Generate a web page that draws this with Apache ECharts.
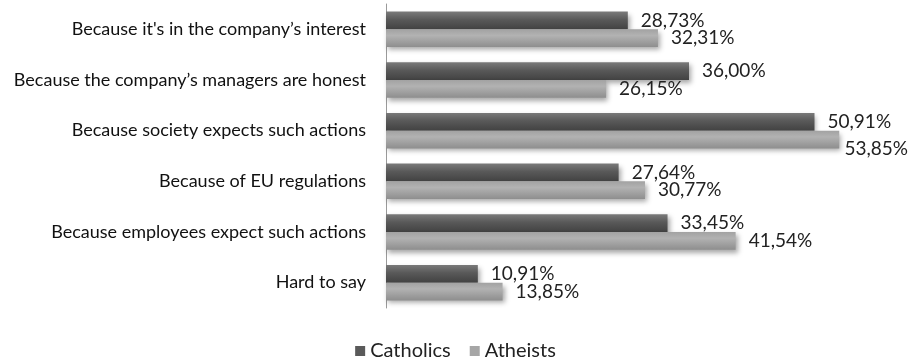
<!DOCTYPE html>
<html>
<head>
<meta charset="utf-8">
<script src="https://cdn.jsdelivr.net/npm/echarts@6/dist/echarts.min.js"></script>
<style>
  html, body { margin: 0; padding: 0; background: #ffffff; }
  #chart { width: 911px; height: 362px; }
</style>
</head>
<body>
<div id="chart"></div>
<script>
// Reasons given, top to bottom
const categories = [
  "Because it's in the company\u2019s interest",
  "Because the company\u2019s managers are honest",
  "Because society expects such actions",
  "Because of EU regulations",
  "Because employees expect such actions",
  "Hard to say"
];
// Share of respondents, in percent
const catholics = [28.73, 36.00, 50.91, 27.64, 33.45, 10.91];
const atheists  = [32.31, 26.15, 53.85, 30.77, 41.54, 13.85];
const seriesNames = ["Catholics", "Atheists"];

const FONT = "Lato, 'Open Sans', sans-serif";

function pct(v) {
  return v.toFixed(2).replace('.', ',') + '%';
}

const darkFill = new echarts.graphic.LinearGradient(0, 0, 0, 1, [
  { offset: 0, color: '#7a7a7a' },
  { offset: 0.45, color: '#595959' },
  { offset: 1, color: '#424242' }
]);
const lightFill = new echarts.graphic.LinearGradient(0, 0, 0, 1, [
  { offset: 0, color: '#a2a2a2' },
  { offset: 0.35, color: '#b2b2b2' },
  { offset: 1, color: '#8e8e8e' }
]);

const chart = echarts.init(document.getElementById('chart'), null, { renderer: 'canvas' });

// Keep value labels inside the canvas: pull a label left if it would run off the edge
function keepInside(params) {
  const r = params.labelRect;
  const limit = chart.getWidth() - 3;
  if (r.x + r.width > limit) {
    return { x: limit - r.width };
  }
  return {};
}

chart.setOption({
  animation: false,
  backgroundColor: '#ffffff',
  grid: { left: 386, right: 20, top: 4, bottom: 54, containLabel: false },
  legend: {
    top: 336,
    left: 'center',
    itemWidth: 10,
    itemHeight: 10,
    itemGap: 19,
    icon: 'rect',
    textStyle: { fontFamily: FONT, fontSize: 20, color: '#222', padding: [0, 0, 0, 0] },
    data: [
      { name: seriesNames[0], itemStyle: { color: '#5a5a5a' } },
      { name: seriesNames[1], itemStyle: { color: '#a6a6a6' } }
    ]
  },
  xAxis: {
    type: 'value',
    min: 0,
    max: 60,
    show: false
  },
  yAxis: {
    type: 'category',
    data: categories,
    inverse: true,
    axisLine: { show: true, lineStyle: { color: '#9a9a9a', width: 1 } },
    axisTick: { show: false },
    axisLabel: {
      fontFamily: FONT,
      fontSize: 18,
      color: '#111',
      margin: 20
    }
  },
  series: [
    {
      name: seriesNames[0],
      type: 'bar',
      data: catholics,
      barGap: '0%',
      barCategoryGap: '30%',
      itemStyle: {
        color: darkFill,
        shadowColor: 'rgba(0,0,0,0.35)',
        shadowBlur: 5,
        shadowOffsetX: 2,
        shadowOffsetY: 3
      },
      label: {
        show: true,
        position: 'right',
        distance: 13,
        offset: [0, 2],
        fontFamily: FONT,
        fontSize: 19,
        color: '#222',
        formatter: p => pct(p.value)
      },
      labelLayout: keepInside
    },
    {
      name: seriesNames[1],
      type: 'bar',
      data: atheists,
      barGap: '0%',
      barCategoryGap: '30%',
      itemStyle: {
        color: lightFill,
        shadowColor: 'rgba(0,0,0,0.35)',
        shadowBlur: 5,
        shadowOffsetX: 2,
        shadowOffsetY: 3
      },
      label: {
        show: true,
        position: 'right',
        distance: 13,
        fontFamily: FONT,
        fontSize: 19,
        color: '#222',
        formatter: p => pct(p.value)
      },
      labelLayout: keepInside
    }
  ]
});
</script>
</body>
</html>
